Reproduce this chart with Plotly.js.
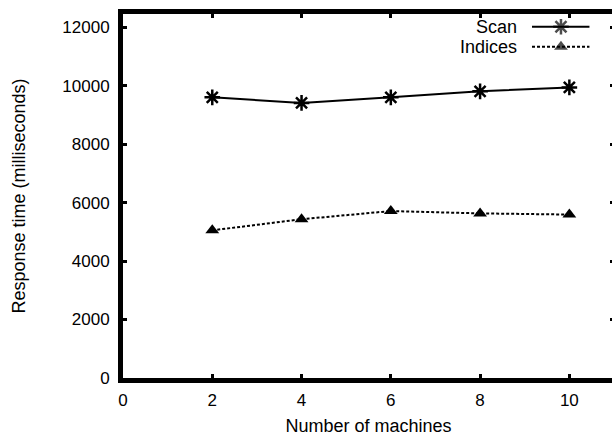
<!DOCTYPE html>
<html>
<head>
<meta charset="utf-8">
<script src="https://cdn.plot.ly/plotly-3.0.1.min.js"></script>
<style>
  html, body { margin: 0; padding: 0; overflow: hidden; background: #fff; }
  #chart { width: 614px; height: 436px; }
</style>
</head>
<body>
<div id="chart"></div>
<script>
// ---- data ----
const machines = [2, 4, 6, 8, 10];
const scanTime = [9600, 9410, 9600, 9805, 9940];
const indicesTime = [5050, 5430, 5710, 5630, 5590];
const seriesNames = ["Scan", "Indices"];
const xTicks = [0, 2, 4, 6, 8, 10];
const yTicks = [0, 2000, 4000, 6000, 8000, 10000, 12000];
const xTitle = "Number of machines";
const yTitle = "Response time (milliseconds)";

// ---- styles ----
const FONT = "Liberation Sans, Arial, Helvetica, sans-serif";
const scanMarker = { symbol: "asterisk-open", size: 13, color: "#000", line: { color: "#000", width: 2.5 } };
const indMarker = { symbol: "triangle-up", size: 12, color: "#000", line: { width: 0 } };
const scanLine = { color: "#000", width: 2 };
const indLine = { color: "#000", width: 2, dash: "3px,2px" };

// legend key geometry (paper fraction of the plotting area)
const keyX = [0.833, 0.892, 0.95];
const keyY = [0.965, 0.91];
const keyTextX = 0.806;

const traces = [
  { x: machines, y: scanTime, name: seriesNames[0], mode: "lines+markers",
    line: scanLine, marker: scanMarker, showlegend: false },
  { x: machines, y: indicesTime, name: seriesNames[1], mode: "lines+markers",
    line: indLine, marker: indMarker, showlegend: false },
  // legend keys on an overlay axis
  { x: keyX, y: [keyY[0], keyY[0], keyY[0]], xaxis: "x2", yaxis: "y2", mode: "lines+markers",
    line: scanLine, marker: Object.assign({}, scanMarker, { size: [0, 13, 0] }),
    showlegend: false, hoverinfo: "skip" },
  { x: keyX, y: [keyY[1], keyY[1], keyY[1]], xaxis: "x2", yaxis: "y2", mode: "lines+markers",
    line: indLine, marker: Object.assign({}, indMarker, { size: [0, 12, 0] }),
    showlegend: false, hoverinfo: "skip" }
];

const axisCommon = {
  showgrid: false, zeroline: false,
  showline: true, linecolor: "#000", linewidth: 5, mirror: "ticks",
  ticks: "inside", ticklen: 4, tickwidth: 3, tickcolor: "#000",
  tickfont: { family: FONT, size: 17, color: "#000" }
};

const layout = {
  width: 614, height: 436,
  margin: { l: 123, r: 0, t: 14, b: 58 },
  paper_bgcolor: "#fff", plot_bgcolor: "#fff",
  font: { family: FONT, color: "#000" },
  xaxis: Object.assign({}, axisCommon, {
    range: [0, 11], tickmode: "array", tickvals: xTicks, ticktext: xTicks.map(String),
    ticklabelstandoff: 3,
    title: { text: xTitle, standoff: 12, font: { family: FONT, size: 18, color: "#000" } }
  }),
  yaxis: Object.assign({}, axisCommon, {
    range: [0, 12450], tickmode: "array", tickvals: yTicks, ticktext: yTicks.map(String),
    ticklabelstandoff: 5,
    title: { text: yTitle, standoff: 34, font: { family: FONT, size: 18, color: "#000" } }
  }),
  xaxis2: { domain: [0, 1], range: [0, 1], overlaying: "x", visible: false, fixedrange: true },
  yaxis2: { domain: [0, 1], range: [0, 1], overlaying: "y", visible: false, fixedrange: true },
  annotations: [
    { xref: "paper", yref: "paper", x: keyTextX, y: keyY[0], text: seriesNames[0],
      showarrow: false, xanchor: "right", yanchor: "middle",
      font: { family: FONT, size: 18, color: "#000" } },
    { xref: "paper", yref: "paper", x: keyTextX, y: keyY[1], text: seriesNames[1],
      showarrow: false, xanchor: "right", yanchor: "middle",
      font: { family: FONT, size: 18, color: "#000" } }
  ],
  showlegend: false
};

Plotly.newPlot("chart", traces, layout, { displayModeBar: false, staticPlot: true });
</script>
</body>
</html>
